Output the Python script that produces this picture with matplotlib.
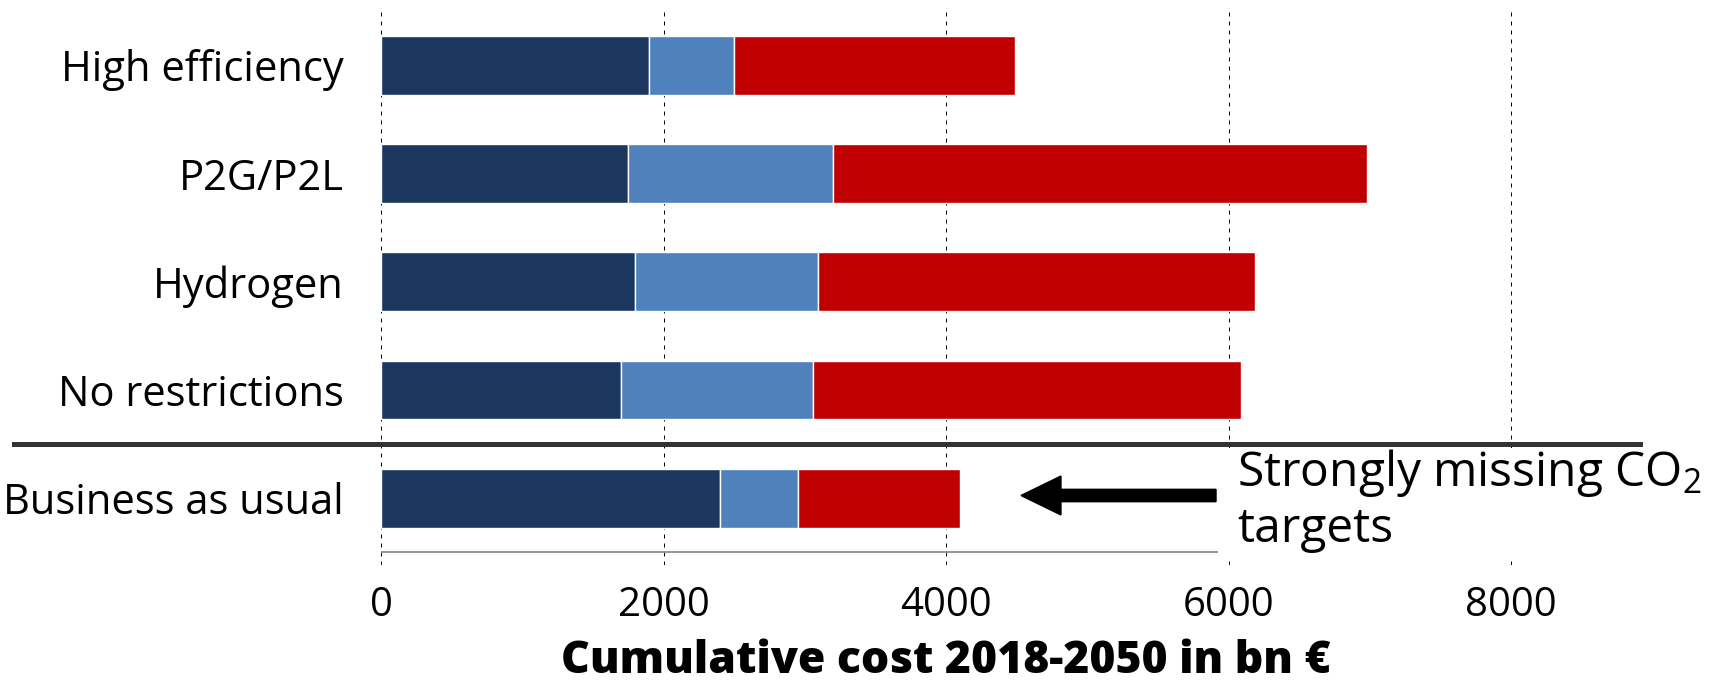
import matplotlib
matplotlib.use("Agg")
import matplotlib.pyplot as plt
import matplotlib.transforms as mtransforms
from matplotlib.patches import Rectangle, FancyArrow
from matplotlib.lines import Line2D
import numpy as np

plt.rcParams['font.family'] = ['Open Sans', 'DejaVu Sans']
plt.rcParams['mathtext.default'] = 'regular'

# ---------------- data (bottom to top) ----------------
categories = ["Business as usual", "No restrictions", "Hydrogen", "P2G/P2L", "High efficiency"]
cost_component_1 = [2400, 1700, 1800, 1750, 1893]
cost_component_2 = [550, 1355, 1295, 1447, 605]
cost_component_3 = [1145, 3035, 3095, 3783, 1990]
x_ticks = [0, 2000, 4000, 6000, 8000]
x_label = "Cumulative cost 2018-2050 in bn €"
note_text = "Strongly missing CO$_2$\ntargets"
arrow_from_x, arrow_to_x = 5911, 4530

colors = ['#1B3760', '#4F81BD', '#C00000']

W, H = 1716, 681
px_per_unit = (1511 - 381.3) / 8000
x_max = 8400
fig = plt.figure(figsize=(W / 100, H / 100), dpi=100)
ax = fig.add_axes([381.3 / W, 1 - 565 / H, x_max * px_per_unit / W, (565 - 12) / H])

y = np.arange(len(categories))
left = np.zeros(len(categories))
for vals, col in zip([cost_component_1, cost_component_2, cost_component_3], colors):
    ax.barh(y, vals, left=left, height=0.544, color=col, edgecolor='white',
            linewidth=1.0, zorder=3)
    left += np.array(vals)

ax.set_xlim(0, x_max)
ax.set_ylim(-0.616, 4.492)
ax.set_yticks(y, categories)
ax.set_xticks(x_ticks, [str(t) for t in x_ticks])
ax.tick_params(axis='both', length=0)
ax.tick_params(axis='y', pad=27, labelsize=30)
ax.tick_params(axis='x', pad=15, labelsize=29)
for s in ax.spines.values():
    s.set_visible(False)
ax.set_axisbelow(True)
ax.grid(axis='x', color='black', linewidth=0.72, linestyle=(0, (4, 5)))
ax.grid(axis='y', visible=False)

# thin baseline line (partly hidden behind the annotation box)
ax.axhline(-0.493, xmin=0, xmax=8000 / x_max, color='#8c8c8c', lw=1.3, zorder=2)

# thick separator between scenarios and BAU
trans = mtransforms.blended_transform_factory(fig.transFigure, ax.transData)
ax.add_line(Line2D([14 / W, 1640 / W], [0.5, 0.5], transform=trans, color='#333333',
                   lw=3.6, clip_on=False, zorder=4))

# arrow
ax.add_patch(FancyArrow(arrow_from_x, 0.026, arrow_to_x - arrow_from_x, 0, width=0.114,
                        head_width=0.36, head_length=283, length_includes_head=True,
                        color='black', zorder=6))

# white box behind annotation
fig.add_artist(Rectangle((1218 / W, 1 - 557 / H), (W - 1218) / W, (557 - 448) / H,
                         transform=fig.transFigure, facecolor='white', edgecolor='none',
                         zorder=5))
fig.text(1237 / W, 1 - 541.7 / H, note_text, ha='left', va='baseline', fontsize=34.5,
         linespacing=1.17, zorder=6)

fig.text(946 / W, 1 - 673 / H, x_label, ha='center', va='baseline', fontsize=32,
         fontweight=800)

fig.savefig('out.png', dpi=100)
